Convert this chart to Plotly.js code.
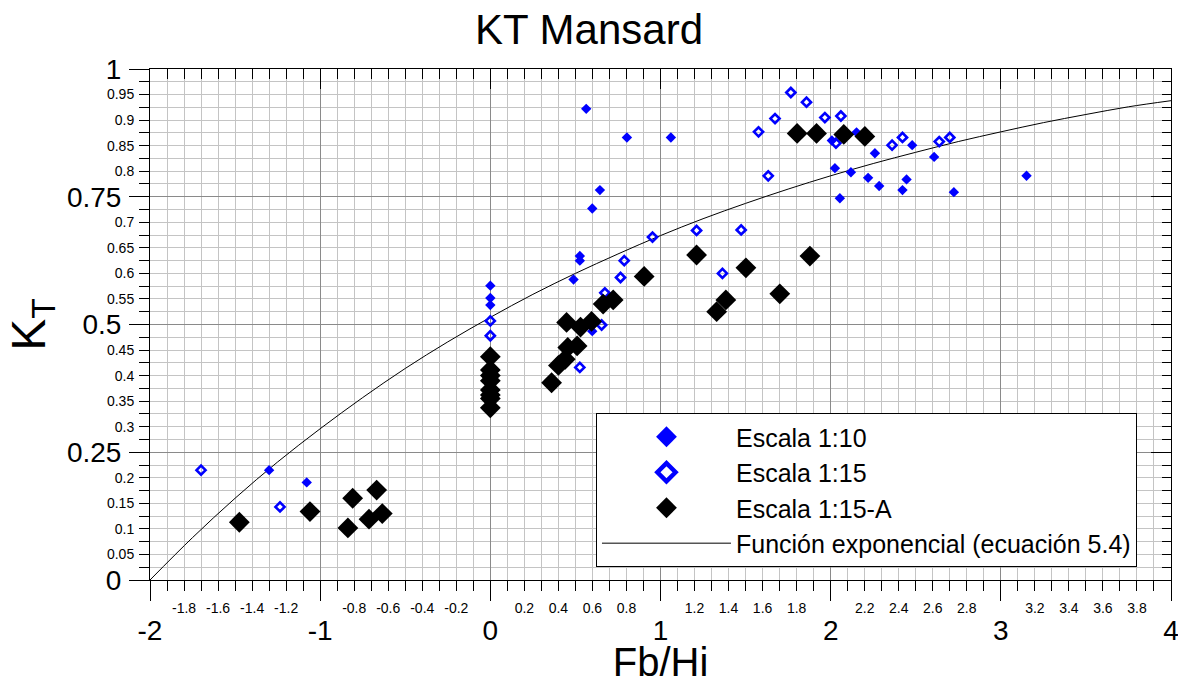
<!DOCTYPE html>
<html>
<head>
<meta charset="utf-8">
<script src="https://cdn.plot.ly/plotly-3.0.1.min.js"></script>
<style>html,body{margin:0;padding:0;background:#fff;}#chart{width:1178px;height:684px;}</style>
</head>
<body>
<div id="chart"></div>
<script>
// Escala 1:10 (filled blue diamonds)
const esc10_x = [-1.30, -1.079, 0, 0, 0, 0.489, 0.526, 0.526, 0.599, 0.599, 0.644, 0.5635, 0.8026, 1.061, 2.007, 2.025, 2.054, 2.119, 2.152, 2.220, 2.260, 2.285, 2.422, 2.446, 2.479, 2.608, 2.724, 3.151];
const esc10_y = [0.215, 0.191, 0.576, 0.552, 0.538, 0.588, 0.634, 0.625, 0.487, 0.727, 0.763, 0.922, 0.866, 0.866, 0.860, 0.806, 0.747, 0.798, 0.876, 0.787, 0.835, 0.771, 0.763, 0.784, 0.851, 0.828, 0.759, 0.791];
// Escala 1:15 (open blue diamonds)
const esc15_x = [-1.70, -1.236, 0, 0, 0.526, 0.654, 0.673, 0.765, 0.787, 0.953, 1.212, 1.364, 1.474, 1.576, 1.633, 1.673, 1.766, 1.858, 1.966, 2.031, 2.060, 2.361, 2.422, 2.638, 2.700];
const esc15_y = [0.215, 0.143, 0.507, 0.478, 0.416, 0.499, 0.562, 0.592, 0.625, 0.671, 0.684, 0.600, 0.685, 0.877, 0.791, 0.903, 0.954, 0.935, 0.905, 0.855, 0.908, 0.851, 0.866, 0.858, 0.866];
// Escala 1:15-A (large black diamonds)
const esc15A_x = [-1.475, -1.06, -0.837, -0.809, -0.713, -0.668, -0.635, 0, 0, 0, 0, 0, 0, 0, 0, 0.360, 0.400, 0.440, 0.455, 0.510, 0.448, 0.530, 0.595, 0.663, 0.722, 0.904, 1.212, 1.330, 1.384, 1.502, 1.701, 1.878, 1.803, 1.917, 2.077, 2.201];
const esc15A_y = [0.113, 0.134, 0.102, 0.160, 0.119, 0.176, 0.130, 0.437, 0.411, 0.400, 0.390, 0.372, 0.362, 0.355, 0.337, 0.386, 0.420, 0.432, 0.455, 0.458, 0.504, 0.495, 0.506, 0.540, 0.548, 0.594, 0.636, 0.525, 0.548, 0.611, 0.560, 0.634, 0.874, 0.874, 0.872, 0.868];
// Función exponencial (ecuación 5.4)
const curve_x = [-2, -1.75, -1.5, -1.25, -1, -0.75, -0.5, -0.25, 0, 0.25, 0.5, 0.75, 1, 1.25, 1.5, 1.75, 2, 2.25, 2.5, 2.75, 3, 3.25, 3.5, 3.75, 4];
const curve_y = [0, 0.083, 0.160, 0.231, 0.296, 0.357, 0.414, 0.466, 0.514, 0.559, 0.600, 0.638, 0.674, 0.707, 0.737, 0.765, 0.791, 0.815, 0.837, 0.858, 0.877, 0.895, 0.911, 0.926, 0.938];

// Tick labels
const xMajorVals = [-2, -1, 0, 1, 2, 3, 4];
const xMinorVals = [-1.8, -1.6, -1.4, -1.2, -0.8, -0.6, -0.4, -0.2, 0.2, 0.4, 0.6, 0.8, 1.2, 1.4, 1.6, 1.8, 2.2, 2.4, 2.6, 2.8, 3.2, 3.4, 3.6, 3.8];
const yMajorVals = [0, 0.25, 0.5, 0.75, 1];
const yMinorVals = [0.05, 0.1, 0.15, 0.2, 0.3, 0.35, 0.4, 0.45, 0.55, 0.6, 0.65, 0.7, 0.8, 0.85, 0.9, 0.95];
const seriesNames = ['Escala 1:10', 'Escala 1:15', 'Escala 1:15-A', 'Función exponencial (ecuación 5.4)'];

const FONT = 'Liberation Sans, Arial, sans-serif';
const BLUE = '#0000ff';
const minorGrid = '#c4c4c4';
const majorGrid = '#8a8a8a';

const traces = [
  {x: curve_x, y: curve_y, mode: 'lines', line: {color: '#000', width: 1, shape: 'spline'}, showlegend: false, legendgroup: 'g4', hoverinfo: 'skip'},
  {x: esc10_x, y: esc10_y, mode: 'markers', marker: {symbol: 'diamond', size: 8, color: BLUE, line: {width: 0}}, showlegend: false, legendgroup: 'g1', name: seriesNames[0]},
  {x: esc15_x, y: esc15_y, mode: 'markers', marker: {symbol: 'diamond-open', size: 7, color: BLUE, line: {width: 2.6, color: BLUE}}, showlegend: false, legendgroup: 'g2', name: seriesNames[1]},
  {x: esc15A_x, y: esc15A_y, mode: 'markers', marker: {symbol: 'diamond', size: 16, color: '#000', line: {width: 0}}, showlegend: false, legendgroup: 'g3', name: seriesNames[2]},
  // legend entries
  {x: [null], y: [null], mode: 'markers', marker: {symbol: 'diamond', size: 16, color: BLUE}, name: seriesNames[0], legendgroup: 'g1'},
  {x: [null], y: [null], mode: 'markers', marker: {symbol: 'diamond-open', size: 14, color: BLUE, line: {width: 4.5, color: BLUE}}, name: seriesNames[1], legendgroup: 'g2'},
  {x: [null], y: [null], mode: 'markers', marker: {symbol: 'diamond', size: 16, color: '#000'}, name: seriesNames[2], legendgroup: 'g3'},
  {x: [null], y: [null], mode: 'lines', line: {color: '#555', width: 1.5}, name: seriesNames[3], legendgroup: 'g4'},
  // empty traces that attach the secondary (label / mirror) axes
  {x: [null], y: [null], xaxis: 'x2', yaxis: 'y2', mode: 'markers', showlegend: false, hoverinfo: 'skip'},
  {x: [null], y: [null], xaxis: 'x3', yaxis: 'y3', mode: 'markers', showlegend: false, hoverinfo: 'skip'}
];

const layout = {
  width: 1178, height: 684,
  margin: {l: 150, r: 7, t: 69, b: 104},
  paper_bgcolor: '#fff', plot_bgcolor: '#fff',
  font: {family: FONT, color: '#000'},
  title: {text: 'KT Mansard', font: {family: FONT, size: 42, color: '#000'}, x: 0.5, xanchor: 'center', y: 1 - 29/684, yref: 'container', yanchor: 'middle'},
  showlegend: true,
  legend: {x: 0.4368, y: 0.3268, xanchor: 'left', yanchor: 'top', bgcolor: '#fff', bordercolor: '#000', borderwidth: 1,
           font: {family: FONT, size: 25, color: '#000'}, itemwidth: 129, tracegroupgap: 0, traceorder: 'grouped', entrywidth: 408},
  xaxis: {range: [-2, 4], tickmode: 'array', tickvals: xMajorVals, ticktext: xMajorVals.map(String), ticks: 'outside', ticklen: 20, tickwidth: 1, tickcolor: '#000',
          tickfont: {family: FONT, size: 28}, ticklabelstandoff: 5, ticklabeloverflow: 'allow',
          showgrid: true, gridcolor: majorGrid, gridwidth: 1, zeroline: false, showline: true, linecolor: '#000', linewidth: 1, automargin: false,
          minor: {tickmode: 'linear', tick0: 0, dtick: 0.1, ticks: 'outside', ticklen: 10, tickcolor: '#000', showgrid: true, gridcolor: minorGrid, gridwidth: 1},
          title: {text: 'Fb/Hi', font: {family: FONT, size: 40}, standoff: 20}},
  xaxis2: {overlaying: 'x', anchor: 'y2', side: 'bottom', range: [-2, 4], tickmode: 'array', tickvals: xMinorVals, ticktext: xMinorVals.map(String),
           ticks: 'outside', ticklen: 10, tickcolor: '#000', tickfont: {family: FONT, size: 14}, ticklabelstandoff: 5, ticklabeloverflow: 'allow',
           showgrid: false, zeroline: false, showline: false, automargin: false},
  xaxis3: {overlaying: 'x', anchor: 'y3', side: 'top', range: [-2, 4], tickmode: 'linear', tick0: 0, dtick: 1, ticks: 'inside', ticklen: 20, tickcolor: '#000',
           showticklabels: false, showgrid: false, zeroline: false, showline: true, linecolor: '#000', automargin: false,
           minor: {tickmode: 'linear', tick0: 0, dtick: 0.1, ticks: 'inside', ticklen: 10, tickcolor: '#000', showgrid: false}},
  yaxis: {range: [0, 1], tickmode: 'array', tickvals: yMajorVals, ticktext: ['0', '0.25', '0.5', '0.75', '1'], ticks: 'outside', ticklen: 20, tickcolor: '#000',
          tickfont: {family: FONT, size: 28}, ticklabelstandoff: 2, ticklabeloverflow: 'allow',
          showgrid: true, gridcolor: majorGrid, gridwidth: 1, zeroline: false, showline: true, linecolor: '#000', linewidth: 1, automargin: false,
          minor: {tickmode: 'linear', tick0: 0, dtick: 0.025, ticks: 'outside', ticklen: 10, tickcolor: '#000', showgrid: true, gridcolor: minorGrid, gridwidth: 1},
          title: {text: 'K<sub>T</sub>', font: {family: FONT, size: 48}, standoff: 6}},
  yaxis2: {overlaying: 'y', anchor: 'x2', side: 'left', range: [0, 1], tickmode: 'array', tickvals: yMinorVals, ticktext: yMinorVals.map(String),
           ticks: 'outside', ticklen: 10, tickcolor: '#000', tickfont: {family: FONT, size: 14}, ticklabelstandoff: 2, ticklabeloverflow: 'allow',
           showgrid: false, zeroline: false, showline: false, automargin: false},
  yaxis3: {overlaying: 'y', anchor: 'x3', side: 'right', range: [0, 1], tickmode: 'linear', tick0: 0, dtick: 0.25, ticks: 'inside', ticklen: 20, tickcolor: '#000',
           showticklabels: false, showgrid: false, zeroline: false, showline: true, linecolor: '#000', automargin: false,
           minor: {tickmode: 'linear', tick0: 0, dtick: 0.025, ticks: 'inside', ticklen: 9, tickcolor: '#000', showgrid: false}}
};

Plotly.newPlot('chart', traces, layout, {displayModeBar: false, staticPlot: true});
</script>
</body>
</html>
